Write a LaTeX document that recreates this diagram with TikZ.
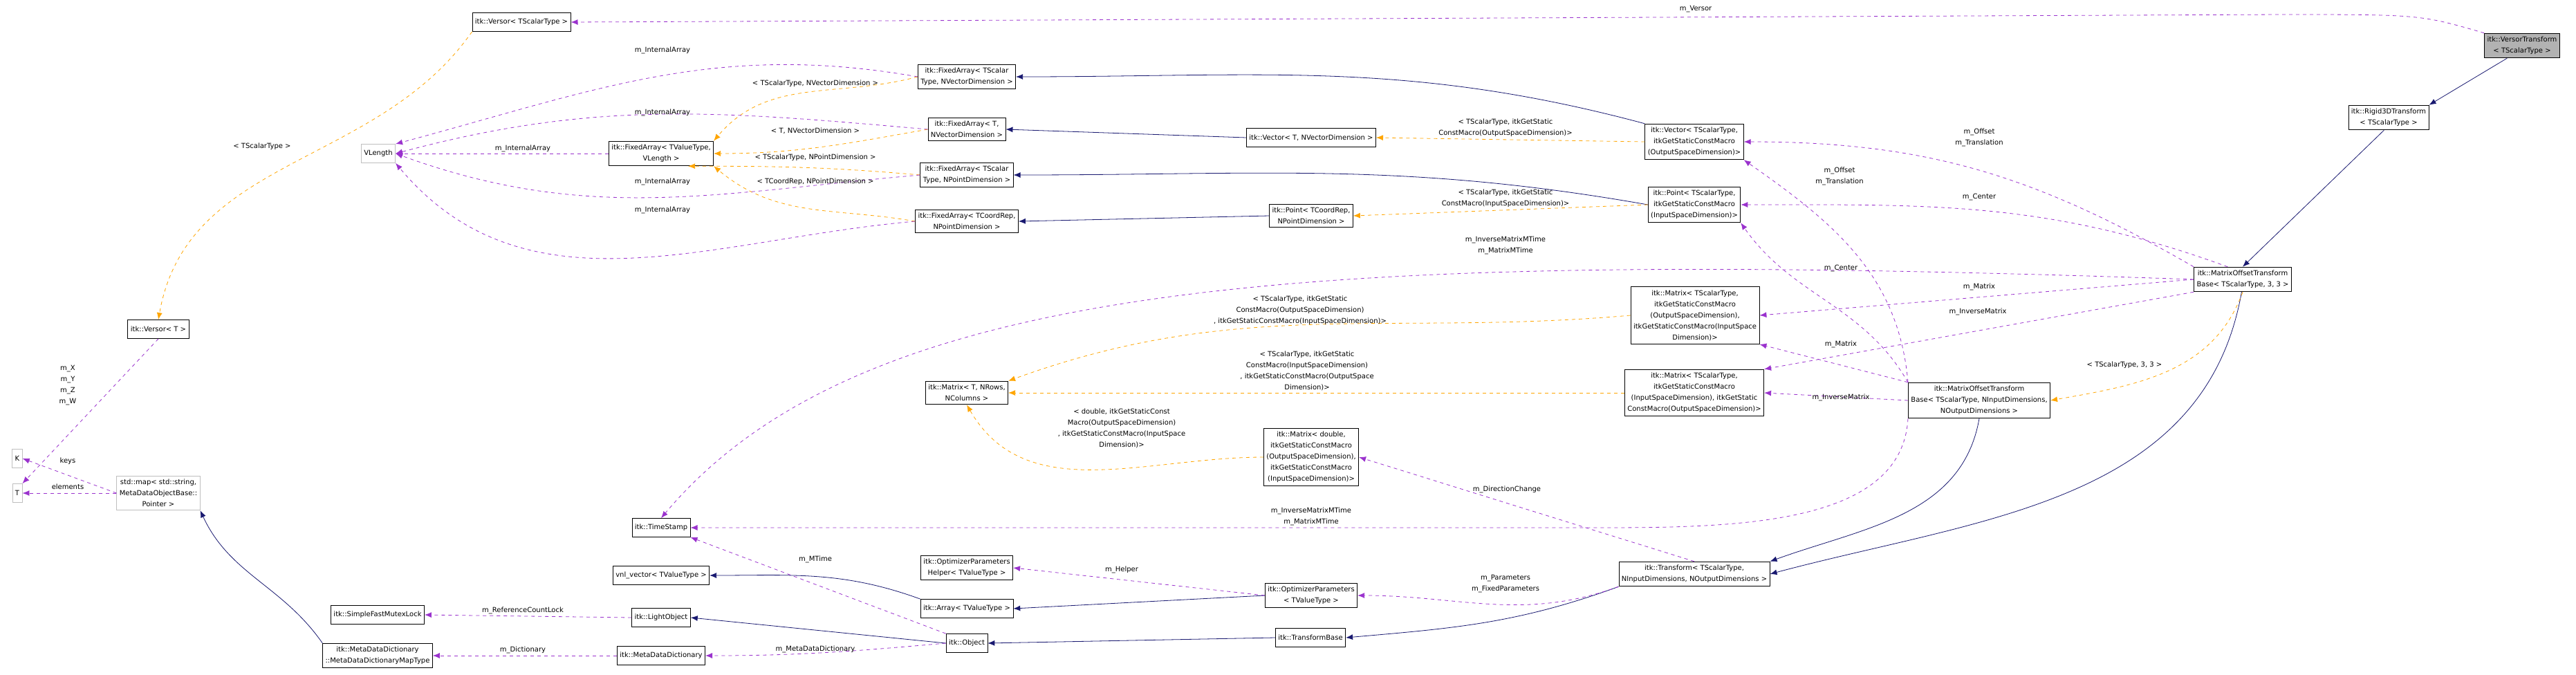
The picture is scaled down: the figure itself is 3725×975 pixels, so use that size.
\documentclass[tikz,border=0pt]{standalone}
\usepackage{fontspec}
\setmainfont{DejaVu Sans}
\usetikzlibrary{arrows.meta}
\definecolor{usecol}{HTML}{9A32CD}
\definecolor{tplcol}{HTML}{FFA500}
\definecolor{inhcol}{HTML}{191970}
\tikzset{
  cls/.style={draw=black, thick, fill=white, align=center, inner xsep=4pt, inner ysep=5pt, minimum height=27pt,
    font=\fontsize{10}{16}\selectfont},
  ext/.style={cls, draw=black!25},
  cur/.style={cls, fill=black!30},
  tip/.style={-{Latex[length=10pt,width=8pt]}},
  inh/.style={tip, draw=inhcol, thick},
  use/.style={tip, draw=usecol, thick, dash pattern=on 5pt off 5pt},
  tpl/.style={tip, draw=tplcol, thick, dash pattern=on 5pt off 5pt},
  lbl/.style={align=center, font=\fontsize{10}{16}\selectfont, inner sep=1pt}
}
\begin{document}
\begin{tikzpicture}[x=1pt, y=-1pt]
\useasboundingbox (0,0) rectangle (3725,975);

% classes
\node[cur] (vtr) at (3647,66) {itk::VersorTransform\\< TScalarType >};
\node[cls] (rigid) at (3454,170) {itk::Rigid3DTransform\\< TScalarType >};
\node[cls] (motb) at (3243,404) {itk::MatrixOffsetTransform\\Base< TScalarType, 3, 3 >};
\node[cls] (motbn) at (2862,579) {itk::MatrixOffsetTransform\\Base< TScalarType, NInputDimensions,\\NOutputDimensions >};
\node[cls] (trf) at (2450,830) {itk::Transform< TScalarType,\\NInputDimensions, NOutputDimensions >};
\node[cls] (vects) at (2450,205) {itk::Vector< TScalarType,\\itkGetStaticConstMacro\\(OutputSpaceDimension)>};
\node[cls] (pnts) at (2450,296) {itk::Point< TScalarType,\\itkGetStaticConstMacro\\(InputSpaceDimension)>};
\node[cls] (mtxoi) at (2451,456) {itk::Matrix< TScalarType,\\itkGetStaticConstMacro\\(OutputSpaceDimension),\\itkGetStaticConstMacro(InputSpace\\Dimension)>};
\node[cls] (mtxio) at (2450,568) {itk::Matrix< TScalarType,\\itkGetStaticConstMacro\\(InputSpaceDimension), itkGetStatic\\ConstMacro(OutputSpaceDimension)>};
\node[cls] (vts) at (754,32) {itk::Versor< TScalarType >};
\node[cls] (versT) at (229,476) {itk::Versor< T >};
\node[ext] (vlen) at (547,222) {VLength};
\node[cls] (fatv) at (956,222) {itk::FixedArray< TValueType,\\VLength >};
\node[cls] (fasv) at (1398,111) {itk::FixedArray< TScalar\\Type, NVectorDimension >};
\node[cls] (fatn) at (1398,187) {itk::FixedArray< T,\\NVectorDimension >};
\node[cls] (fasp) at (1398,253) {itk::FixedArray< TScalar\\Type, NPointDimension >};
\node[cls] (facp) at (1398,320) {itk::FixedArray< TCoordRep,\\NPointDimension >};
\node[cls] (vectn) at (1896,199) {itk::Vector< T, NVectorDimension >};
\node[cls] (pntc) at (1896,312) {itk::Point< TCoordRep,\\NPointDimension >};
\node[cls] (mtx) at (1398,568) {itk::Matrix< T, NRows,\\NColumns >};
\node[cls] (mtxd) at (1896,661) {itk::Matrix< double,\\itkGetStaticConstMacro\\(OutputSpaceDimension),\\itkGetStaticConstMacro\\(InputSpaceDimension)>};
\node[cls] (tstamp) at (956,763) {itk::TimeStamp};
\node[cls] (vnl) at (956,832) {vnl\_vector< TValueType >};
\node[cls] (mutex) at (546,889) {itk::SimpleFastMutexLock};
\node[cls] (light) at (956,893) {itk::LightObject};
\node[cls] (mdmap) at (546,948) {itk::MetaDataDictionary\\::MetaDataDictionaryMapType};
\node[cls] (mdd) at (956,948) {itk::MetaDataDictionary};
\node[cls] (obj) at (1398,930) {itk::Object};
\node[cls] (tbase) at (1895,922) {itk::TransformBase};
\node[cls] (array) at (1398,880) {itk::Array< TValueType >};
\node[cls] (opt) at (1896,861) {itk::OptimizerParameters\\< TValueType >};
\node[cls] (opth) at (1398,821) {itk::OptimizerParameters\\Helper< TValueType >};
\node[ext] (nk) at (25,663) {K};
\node[ext] (nt) at (25,713) {T};
\node[ext] (smap) at (229,713) {std::map< std::string,\\MetaDataObjectBase::\\Pointer >};

% inheritance
\draw[inh] (vtr.220) -- (rigid.north east);
\draw[inh] (rigid.250) -- (motb.north);
\draw[inh] (motb.265) to[out=260,in=15] (trf.east);
\draw[inh] (motbn.south) to[out=260,in=20] (trf.north east);
\draw[inh] (vects.north west) to[out=165,in=0] (fasv.east);
\draw[inh] (vectn.west) -- (fatn.east);
\draw[inh] (pnts.west) to[out=170,in=0] (fasp.east);
\draw[inh] (pntc.west) -- (facp.east);
\draw[inh] (trf.south west) to[out=200,in=5] (tbase.east);
\draw[inh] (tbase.west) -- (obj.east);
\draw[inh] (opt.west) -- (array.east);
\draw[inh] (array.north west) to[out=160,in=0] (vnl.east);
\draw[inh] (obj.west) -- (light.east);
\draw[inh] (mdmap.north west) to[out=125,in=-65] (smap.south east);

% template instances
\draw[tpl] (vts.south west) to[out=235,in=80] (versT.north);
\draw[tpl] (fasv.west) to[out=195,in=50] (fatv.north east);
\draw[tpl] (fatn.west) to[out=190,in=0] (fatv.east);
\draw[tpl] (fasp.west) to[out=175,in=0] (fatv.335);
\draw[tpl] (facp.west) to[out=170,in=-40] (fatv.south east);
\draw[tpl] (vects.west) -- (vectn.east);
\draw[tpl] (pnts.west) -- (pntc.east);
\draw[tpl] (mtxoi.west) to[out=185,in=20] (mtx.north east);
\draw[tpl] (mtxio.west) -- (mtx.east);
\draw[tpl] (mtxd.west) to[out=180,in=-60] (mtx.south);
\draw[tpl] (motb.south) to[out=250,in=10] (motbn.east);

% members
\draw[use] (vtr.north west) .. controls (3500,21) .. (3300,21) -- (vts.east);
\draw[use] (fasv.west) to[out=170,in=15] (vlen.north east);
\draw[use] (fatn.west) to[out=175,in=15] (vlen.east);
\draw[use] (fatv.west) -- (vlen.east);
\draw[use] (fasp.west) to[out=185,in=-20] (vlen.east);
\draw[use] (facp.west) to[out=185,in=-50] (vlen.south east);
\draw[use] (versT.south) -- (nt.north east);
\draw[use] (smap.west) -- (nk.east);
\draw[use] (smap.west) -- (nt.east);
\draw[use] (light.west) -- (mutex.east);
\draw[use] (mdd.west) -- (mdmap.east);
\draw[use] (obj.west) to[out=185,in=0] (mdd.east);
\draw[use] (obj.north west) -- (tstamp.south east);
\draw[use] (motb.west) .. controls (1900,360) and (1250,400) .. (tstamp.north);
\draw[use] (motbn.south west) .. controls (2750,763) and (2500,763) .. (2300,763) -- (tstamp.east);
\draw[use] (motb.north west) to[out=150,in=0] (vects.east);
\draw[use] (motb.140) to[out=160,in=0] (pnts.east);
\draw[use] (motb.west) -- (mtxoi.east);
\draw[use] (motb.south west) -- (mtxio.north east);
\draw[use] (motbn.north west) to[out=95,in=-35] (vects.south east);
\draw[use] (motbn.north west) to[out=120,in=-55] (pnts.south east);
\draw[use] (motbn.north west) -- (mtxoi.south east);
\draw[use] (motbn.west) -- (mtxio.east);
\draw[use] (trf.north) -- (mtxd.east);
\draw[use] (trf.south west) to[out=200,in=0] (opt.east);
\draw[use] (opt.west) -- (opth.east);

% member and template labels
\node[lbl] at (2452,13) {m\_Versor};
\node[lbl] at (379,212) {< TScalarType >};
\node[lbl] at (958,73) {m\_InternalArray};
\node[lbl] at (958,163) {m\_InternalArray};
\node[lbl] at (756,215) {m\_InternalArray};
\node[lbl] at (958,263) {m\_InternalArray};
\node[lbl] at (958,304) {m\_InternalArray};
\node[lbl] at (98,557) {m\_X\\m\_Y\\m\_Z\\m\_W};
\node[lbl] at (98,667) {keys};
\node[lbl] at (98,704) {elements};
\node[lbl] at (756,883) {m\_ReferenceCountLock};
\node[lbl] at (756,940) {m\_Dictionary};
\node[lbl] at (1179,121) {< TScalarType, NVectorDimension >};
\node[lbl] at (1179,189) {< T, NVectorDimension >};
\node[lbl] at (1179,228) {< TScalarType, NPointDimension >};
\node[lbl] at (1179,263) {< TCoordRep, NPointDimension >};
\node[lbl] at (1880,449) {< TScalarType, itkGetStatic\\ConstMacro(OutputSpaceDimension)\\, itkGetStaticConstMacro(InputSpaceDimension)>};
\node[lbl] at (1890,536) {< TScalarType, itkGetStatic\\ConstMacro(InputSpaceDimension)\\, itkGetStaticConstMacro(OutputSpace\\Dimension)>};
\node[lbl] at (1622,619) {< double, itkGetStaticConst\\Macro(OutputSpaceDimension)\\, itkGetStaticConstMacro(InputSpace\\Dimension)>};
\node[lbl] at (1896,747) {m\_InverseMatrixMTime\\m\_MatrixMTime};
\node[lbl] at (1179,809) {m\_MTime};
\node[lbl] at (1622,824) {m\_Helper};
\node[lbl] at (1179,939) {m\_MetaDataDictionary};
\node[lbl] at (2177,185) {< TScalarType, itkGetStatic\\ConstMacro(OutputSpaceDimension)>};
\node[lbl] at (2177,287) {< TScalarType, itkGetStatic\\ConstMacro(InputSpaceDimension)>};
\node[lbl] at (2177,355) {m\_InverseMatrixMTime\\m\_MatrixMTime};
\node[lbl] at (2862,199) {m\_Offset\\m\_Translation};
\node[lbl] at (2660,255) {m\_Offset\\m\_Translation};
\node[lbl] at (2862,285) {m\_Center};
\node[lbl] at (2662,388) {m\_Center};
\node[lbl] at (2862,415) {m\_Matrix};
\node[lbl] at (2860,451) {m\_InverseMatrix};
\node[lbl] at (2662,498) {m\_Matrix};
\node[lbl] at (2662,575) {m\_InverseMatrix};
\node[lbl] at (2179,708) {m\_DirectionChange};
\node[lbl] at (2177,844) {m\_Parameters\\m\_FixedParameters};
\node[lbl] at (3072,528) {< TScalarType, 3, 3 >};
\end{tikzpicture}
\end{document}
